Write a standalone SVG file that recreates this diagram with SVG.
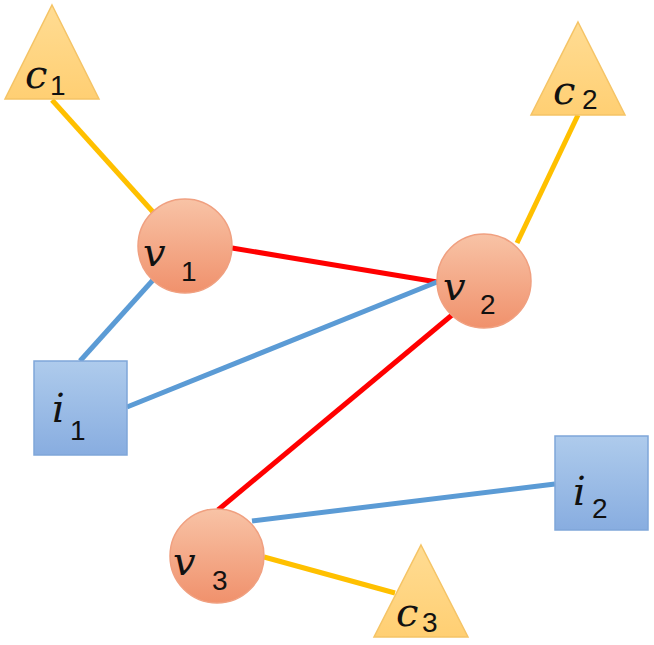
<svg xmlns="http://www.w3.org/2000/svg" width="654" height="645" viewBox="0 0 654 645">
<defs>
<linearGradient id="gc" x1="0" y1="0" x2="0" y2="1"><stop offset="0" stop-color="#f8c3a6"/><stop offset="1" stop-color="#f0916c"/></linearGradient>
<linearGradient id="gs" x1="0" y1="0" x2="0" y2="1"><stop offset="0" stop-color="#aecbec"/><stop offset="1" stop-color="#88ade0"/></linearGradient>
<linearGradient id="gt" x1="0" y1="0" x2="0" y2="1"><stop offset="0" stop-color="#ffdc93"/><stop offset="1" stop-color="#ffcf73"/></linearGradient>
<style>
.c{fill:url(#gc);stroke:#f0a080;stroke-width:1.5}
.s{fill:url(#gs);stroke:#7fa6d9;stroke-width:1.5}
.t{fill:url(#gt);stroke:#f5c466;stroke-width:1.5}
.e{stroke-width:5;fill:none}
.o{stroke:#ffc000}.r{stroke:#ff0000}.b{stroke:#5b9bd5}
text{font-family:"DejaVu Serif","Liberation Serif",serif;fill:#111}
.m{font-style:italic;font-size:40px}
.n{font-size:28px;font-family:"Liberation Sans",sans-serif}
</style>
</defs>
<g id="connectors">
<line class="e o" x1="52" y1="100" x2="153" y2="212"/>
<line class="e r" x1="232" y1="248" x2="437" y2="282"/>
<line class="e b" x1="153" y1="280" x2="80" y2="361"/>
<line class="e b" x1="127" y1="407" x2="437" y2="282"/>
<line class="e r" x1="452" y1="315" x2="218" y2="510"/>
<line class="e o" x1="578" y1="115" x2="517" y2="243"/>
<line class="e b" x1="252" y1="521" x2="555" y2="484"/>
<line class="e o" x1="264" y1="557" x2="395" y2="593"/>
</g>
<g id="c1"><polygon class="t" points="52,5 99,99 5,99"/><text class="m" x="25" y="88">c</text><text class="n" x="50" y="95">1</text></g>
<g id="c2"><polygon class="t" points="578,22 625,115 531,115"/><text class="m" x="553" y="104">c</text><text class="n" x="582" y="109">2</text></g>
<g id="c3"><polygon class="t" points="421,545 468,637 374,637"/><text class="m" x="396" y="626">c</text><text class="n" x="422" y="632">3</text></g>
<g id="v1"><circle class="c" cx="185" cy="246" r="47"/><text class="m" x="143" y="266">v</text><text class="n" x="181" y="281">1</text></g>
<g id="v2"><circle class="c" cx="484" cy="281" r="47"/><text class="m" x="443" y="300">v</text><text class="n" x="480" y="314">2</text></g>
<g id="v3"><circle class="c" cx="217" cy="556" r="47"/><text class="m" x="173" y="575">v</text><text class="n" x="212" y="590">3</text></g>
<g id="i1"><rect class="s" x="34" y="361" width="93" height="94"/><text class="m" x="52" y="422">i</text><text class="n" x="70" y="440">1</text></g>
<g id="i2"><rect class="s" x="555" y="436" width="93" height="94"/><text class="m" x="573" y="505">i</text><text class="n" x="592" y="518">2</text></g>
</svg>
